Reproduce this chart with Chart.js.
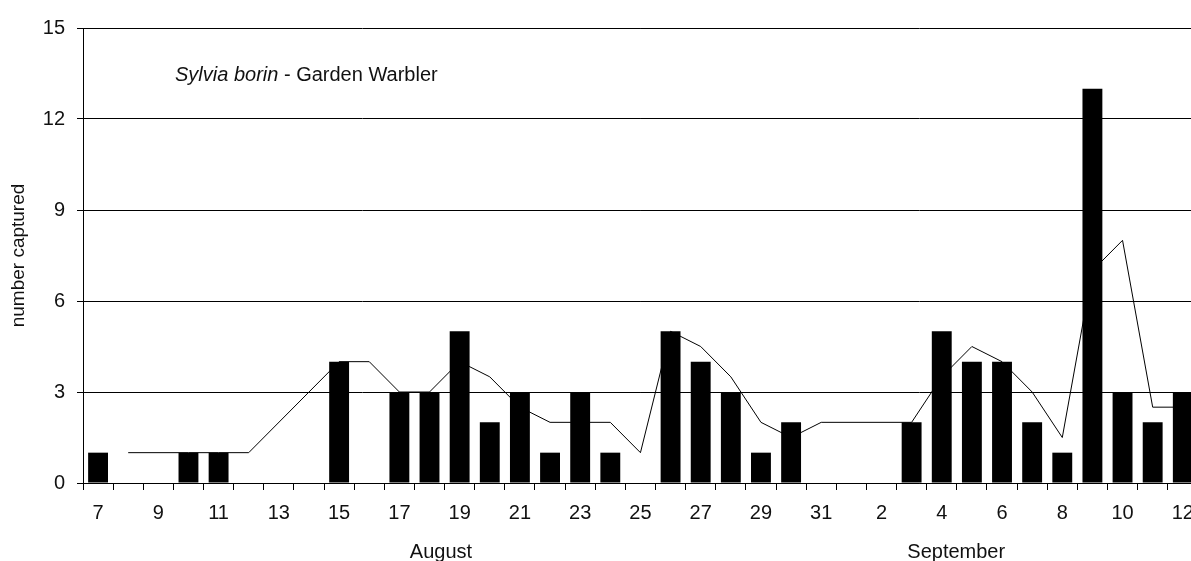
<!DOCTYPE html>
<html>
<head>
<meta charset="utf-8">
<title>Sylvia borin - Garden Warbler</title>
<script src="https://cdn.jsdelivr.net/npm/chart.js@4.4.0/dist/chart.umd.min.js"></script>
<style>
    html, body { margin: 0; padding: 0; background: #fff; overflow: hidden; }
    #wrap { position: relative; width: 1205px; height: 561px; }
</style>
</head>
<body>
<div id="wrap"><canvas id="chartCaptura"></canvas></div>
<script>
// dias de 7 de agosto a 12 de setembro
const dias = ['7', '8', '9', '10', '11', '12', '13', '14', '15', '16', '17', '18', '19', '20',
    '21', '22', '23', '24', '25', '26', '27', '28', '29', '30', '31',
    '1', '2', '3', '4', '5', '6', '7', '8', '9', '10', '11', '12'];

// capturas por dia (null = sem barra)
const capturas = [1, null, null, 1, 1, null, null, null, 4, null, 3, 3, 5, 2,
    3, 1, 3, 1, null, 5, 4, 3, 1, 2, null,
    null, null, 2, 5, 4, 4, 2, 1, 13, 3, 2, 3];

// linha de media (null = sem ponto)
const media = [null, 1, null, 1, 1, 1, null, null, 4, 4, 3, 3, 4, 3.5,
    2.5, 2, 2, 2, 1, 5, 4.5, 3.5, 2, 1.5, 2,
    null, null, 2, 3.5, 4.5, 4, 3, 1.5, 7, 8, 2.5, 2.5];

const meses = ['August', 'September'];
const yTicks = [0, 3, 6, 9, 12, 15];

const FONTE = "'Liberation Sans', Arial, sans-serif";

// textos extras: titulo da especie e nomes dos meses
const textosPlugin = {
    id: 'textos',
    afterDraw(chart) {
        const ctx = chart.ctx;
        const area = chart.chartArea;
        const x = chart.scales.x;
        ctx.save();
        ctx.fillStyle = '#111';
        ctx.textBaseline = 'alphabetic';

        // Sylvia borin (italico) - Garden Warbler
        let tx = area.left + 92;
        const ty = area.top + 53;
        ctx.textAlign = 'left';
        ctx.font = 'italic 20px ' + FONTE;
        ctx.fillText('Sylvia borin', tx, ty);
        tx += ctx.measureText('Sylvia borin').width;
        ctx.font = '20px ' + FONTE;
        ctx.fillText(' - Garden Warbler', tx, ty);

        // meses abaixo dos dias
        ctx.textAlign = 'center';
        ctx.textBaseline = 'middle';
        ctx.fillText(meses[0], x.getPixelForValue(11.38), 552);
        ctx.fillText(meses[1], x.getPixelForValue(28.48), 552);
        ctx.restore();
    }
};

const ctx = document.getElementById('chartCaptura').getContext('2d');
new Chart(ctx, {
    data: {
        labels: dias,
        datasets: [
            {
                type: 'bar',
                label: 'capturas',
                data: capturas,
                backgroundColor: '#000',
                borderWidth: 0,
                barPercentage: 0.66,
                categoryPercentage: 1,
                order: 1
            },
            {
                type: 'line',
                label: 'media',
                data: media,
                borderColor: '#000',
                borderWidth: 1,
                pointRadius: 0,
                tension: 0,
                spanGaps: true,
                order: 2
            }
        ]
    },
    options: {
        responsive: true,
        maintainAspectRatio: false,
        animation: false,
        layout: { padding: { top: 28, right: 5, left: 0, bottom: 0 } },
        plugins: {
            legend: { display: false },
            tooltip: { enabled: false }
        },
        scales: {
            x: {
                type: 'category',
                offset: true,
                grid: {
                    offset: true,
                    drawOnChartArea: false,
                    drawTicks: true,
                    tickLength: 7,
                    color: '#000'
                },
                border: { display: true, color: '#000', width: 1 },
                ticks: {
                    autoSkip: false,
                    maxRotation: 0,
                    minRotation: 0,
                    padding: 11,
                    color: '#111',
                    font: { family: FONTE, size: 20 },
                    callback: (val, i) => (i % 2 === 0 ? dias[i] : '')
                },
                afterFit: (s) => { s.height = 78; }
            },
            y: {
                min: 0,
                max: 15,
                afterBuildTicks: (s) => { s.ticks = yTicks.map(v => ({ value: v })); },
                grid: {
                    color: '#000',
                    drawTicks: true,
                    tickLength: 6
                },
                border: { display: true, color: '#000', width: 1 },
                ticks: {
                    padding: 12,
                    color: '#111',
                    font: { family: FONTE, size: 20 }
                },
                title: {
                    display: true,
                    text: 'number captured',
                    color: '#111',
                    font: { family: FONTE, size: 19 },
                    padding: { top: 7, bottom: 0 }
                },
                afterFit: (s) => { s.width = 83; }
            }
        }
    },
    plugins: [textosPlugin]
});
</script>
</body>
</html>
